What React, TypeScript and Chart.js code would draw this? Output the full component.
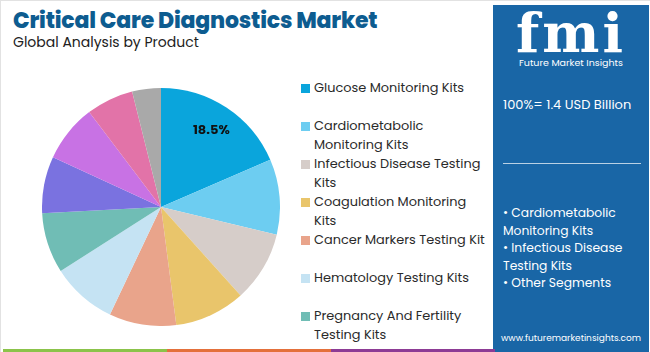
import React, { useEffect, useRef } from "react";
import { Chart, registerables } from "chart.js";

Chart.register(...registerables);

const categories = [
  "Glucose Monitoring Kits",
  "Cardiometabolic Monitoring Kits",
  "Infectious Disease Testing Kits",
  "Coagulation Monitoring Kits",
  "Cancer Markers Testing Kit",
  "Hematology Testing Kits",
  "Pregnancy And Fertility Testing Kits",
  "Blood Gas and Electrolyte Testing Kits",
  "Drugs of Abuse Testing Kits",
  "Cardiac Marker Testing Kits",
  "Others",
];
const shares = [18.5, 10.2, 9.6, 9.6, 9.1, 8.9, 8.2, 7.7, 7.8, 6.4, 3.9];
const colors = [
  "#0aa5dc",
  "#6dcdf1",
  "#d6cdc9",
  "#e9c56b",
  "#e9a48b",
  "#c5e3f3",
  "#70bdb5",
  "#7a72e0",
  "#c872e4",
  "#e273a8",
  "#a9a9a9",
];
const legendCount = 7;
const labeledSlices = [0];

const title = "Critical Care Diagnostics Market";
const subtitle = "Global Analysis by Product";
const totalText = "100%= 1.4 USD Billion";
const bulletLines = [
  "• Cardiometabolic",
  "Monitoring Kits",
  "• Infectious Disease",
  "Testing Kits",
  "• Other Segments",
];
const website = "www.futuremarketinsights.com";
const stripeColors = ["#8bc34a", "#e4703b", "#8d3b95"];

const FONT = "Poppins, 'Open Sans', 'Noto Sans', sans-serif";

const labelPlugin = {
  id: "sliceLabels",
  afterDatasetsDraw(chart: any) {
    const ctx = chart.ctx;
    const meta = chart.getDatasetMeta(0);
    ctx.save();
    ctx.font = "bold 13px Poppins, 'Open Sans', sans-serif";
    ctx.fillStyle = "#111111";
    ctx.textAlign = "center";
    ctx.textBaseline = "middle";
    labeledSlices.forEach((i) => {
      const arc: any = meta.data[i];
      const p = arc.getProps(["x", "y", "startAngle", "endAngle", "outerRadius"], true);
      const mid = (p.startAngle + p.endAngle) / 2;
      const r = p.outerRadius * 0.77;
      ctx.fillText(shares[i].toFixed(1) + "%", p.x + Math.cos(mid) * r, p.y + Math.sin(mid) * r);
    });
    ctx.restore();
  },
};

function PieChart() {
  const ref = useRef<HTMLCanvasElement | null>(null);
  useEffect(() => {
    if (!ref.current) return;
    const chart = new Chart(ref.current, {
      type: "pie",
      data: {
        labels: categories,
        datasets: [
          {
            data: shares,
            backgroundColor: colors,
            borderWidth: 0,
          },
        ],
      },
      options: {
        animation: false,
        responsive: false,
        maintainAspectRatio: false,
        layout: { padding: 0 },
        plugins: {
          legend: { display: false },
          tooltip: { enabled: false },
        },
      },
      plugins: [labelPlugin],
    });
    return () => chart.destroy();
  }, []);
  return (
    <canvas
      ref={ref}
      width={238}
      height={238}
      style={{ position: "absolute", left: 41, top: 87, width: 238, height: 238 }}
    />
  );
}

export default function App() {
  useEffect(() => {
    document.body.style.margin = "0";
  }, []);
  return (
    <div
      style={{
        position: "relative",
        width: 650,
        height: 352,
        overflow: "hidden",
        background: "#ffffff",
        fontFamily: FONT,
        boxSizing: "border-box",
        borderTop: "1px solid #e2e2e2",
        borderLeft: "1px solid #e2e2e2",
      }}
    >
      <div
        style={{
          position: "absolute",
          left: 12,
          top: 3,
          fontSize: 22,
          fontWeight: 800,
          color: "#0d5c90",
          whiteSpace: "nowrap",
          letterSpacing: -0.2,
        }}
      >
        {title}
      </div>
      <div
        style={{
          position: "absolute",
          left: 12,
          top: 31,
          fontSize: 14,
          color: "#222",
          whiteSpace: "nowrap",
        }}
      >
        {subtitle}
      </div>

      <PieChart />

      <div style={{ position: "absolute", left: 300, top: 77, width: 190 }}>
        {categories.slice(0, legendCount).map((c, i) => (
          <div
            key={c}
            style={{
              position: "relative",
              height: 38,
              paddingLeft: 13,
              fontSize: 12.9,
              lineHeight: "19px",
              color: "#2a2a2a",
            }}
          >
            <span
              style={{
                position: "absolute",
                left: 0,
                top: 6,
                width: 9,
                height: 9,
                background: colors[i],
              }}
            />
            {c}
          </div>
        ))}
      </div>

      <div
        style={{
          position: "absolute",
          left: 492,
          top: 4,
          width: 156,
          height: 348,
          background: "#1966a6",
          color: "#ffffff",
        }}
      >
        <div
          style={{
            position: "absolute",
            left: 0,
            top: 0,
            width: 156,
            textAlign: "center",
            fontFamily: "'DejaVu Serif', serif",
            fontWeight: 900,
            fontSize: 54,
            lineHeight: "56px",
            letterSpacing: 3,
          }}
        >
          fmi
        </div>
        <div
          style={{
            position: "absolute",
            left: 0,
            top: 51,
            width: 156,
            textAlign: "center",
            fontSize: 9.5,
            whiteSpace: "nowrap",
          }}
        >
          Future Market Insights
        </div>
        <div
          style={{
            position: "absolute",
            left: 10,
            top: 90,
            fontSize: 13,
            whiteSpace: "nowrap",
          }}
        >
          {totalText}
        </div>
        <div
          style={{
            position: "absolute",
            left: 10,
            top: 158,
            width: 138,
            height: 1,
            background: "rgba(255,255,255,0.7)",
          }}
        />
        <div style={{ position: "absolute", left: 10, top: 199 }}>
          {bulletLines.map((l) => (
            <div key={l} style={{ fontSize: 12.3, lineHeight: "17.5px", whiteSpace: "nowrap" }}>
              {l}
            </div>
          ))}
        </div>
        <div
          style={{
            position: "absolute",
            left: 0,
            top: 327,
            width: 156,
            textAlign: "center",
            fontSize: 9,
            whiteSpace: "nowrap",
          }}
        >
          {website}
        </div>
      </div>

      {stripeColors.map((c, i) => (
        <div
          key={c}
          style={{
            position: "absolute",
            left: 2 + i * 164,
            top: 348,
            width: 164,
            height: 4,
            background: c,
          }}
        />
      ))}
    </div>
  );
}
